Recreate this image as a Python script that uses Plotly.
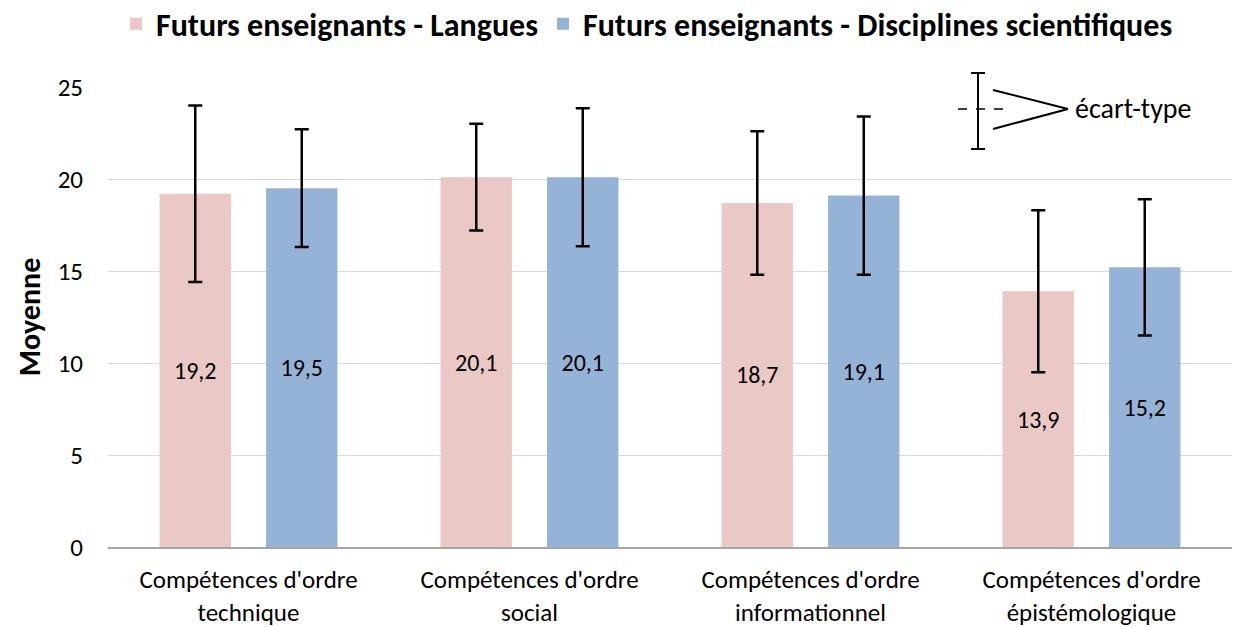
import plotly.graph_objects as go

categories = ["Compétences d'ordre<br>technique", "Compétences d'ordre<br>social",
              "Compétences d'ordre<br>informationnel", "Compétences d'ordre<br>épistémologique"]
langues_mean = [19.2, 20.1, 18.7, 13.9]
langues_sd = [4.8, 2.9, 3.9, 4.4]
sciences_mean = [19.5, 20.1, 19.1, 15.2]
sciences_sd = [3.2, 3.75, 4.3, 3.7]
series_names = ["Futurs enseignants - Langues", "Futurs enseignants - Disciplines scientifiques"]
y_ticks = [0, 5, 10, 15, 20, 25]

FONT = "Carlito, Lato, sans-serif"
W, H = 1238, 627
ML, MR, MT, MB = 108, 6, 87, 80
PW, PH = W - ML - MR, H - MT - MB


def px(x):
    return (x - ML) / PW


def py(y):
    return (H - MB - y) / PH


fig = go.Figure()
for name, vals, sd, col in [(series_names[0], langues_mean, langues_sd, "#EAC8C6"),
                            (series_names[1], sciences_mean, sciences_sd, "#95B3D7")]:
    fig.add_trace(go.Bar(
        x=categories, y=vals, name=name, marker=dict(color=col, line=dict(width=0)),
        error_y=dict(type="data", array=sd, visible=True, color="black", thickness=2.5, width=7),
        text=vals, texttemplate="%{y:.1f}", textposition="inside", insidetextanchor="middle",
        textfont=dict(family=FONT, size=24, color="black"), textangle=0,
        cliponaxis=False,
    ))

# inset legend for standard deviation
shapes = [
    dict(type="rect", xref="paper", yref="paper", x0=px(947), x1=px(1213), y0=py(157), y1=py(62),
         fillcolor="white", line=dict(width=0), layer="above"),
    dict(type="line", xref="paper", yref="paper", x0=px(978), x1=px(978), y0=py(73), y1=py(149),
         line=dict(color="black", width=2), layer="above"),
    dict(type="line", xref="paper", yref="paper", x0=px(971), x1=px(985), y0=py(73), y1=py(73),
         line=dict(color="black", width=2), layer="above"),
    dict(type="line", xref="paper", yref="paper", x0=px(971), x1=px(985), y0=py(149), y1=py(149),
         line=dict(color="black", width=2), layer="above"),
    dict(type="line", xref="paper", yref="paper", x0=px(958), x1=px(1003), y0=py(109), y1=py(109),
         line=dict(color="black", width=1.5, dash="dash"), layer="above"),
    dict(type="line", xref="paper", yref="paper", x0=px(993), x1=px(1068), y0=py(90), y1=py(109),
         line=dict(color="black", width=2), layer="above"),
    dict(type="line", xref="paper", yref="paper", x0=px(993), x1=px(1068), y0=py(129), y1=py(109),
         line=dict(color="black", width=2), layer="above"),
]

fig.update_layout(
    width=W, height=H, margin=dict(l=ML, r=MR, t=MT, b=MB, autoexpand=False),
    paper_bgcolor="white", plot_bgcolor="white",
    separators=", ",
    barmode="group", bargap=0.242, bargroupgap=0.33,
    font=dict(family=FONT, size=20, color="black"),
    legend=dict(orientation="h", x=px(647), xanchor="center", y=py(24), yanchor="middle",
                font=dict(family=FONT, size=32, color="black", weight="bold"),
                itemwidth=30, traceorder="normal"),
    shapes=shapes,
    annotations=[dict(text="écart-type", xref="paper", yref="paper", x=px(1073), y=py(109),
                      xanchor="left", yanchor="middle", showarrow=False,
                      font=dict(family=FONT, size=28, color="black"))],
    showlegend=True,
)
fig.update_yaxes(range=[0, 25], tickvals=y_ticks, showgrid=True, gridcolor="#D9D9D9", gridwidth=1,
                 zeroline=False, showline=False, ticklabelstandoff=24,
                 tickfont=dict(family=FONT, size=25, color="black"),
                 title=dict(text="Moyenne", standoff=8,
                            font=dict(family=FONT, size=30, color="black", weight="bold")))
fig.update_xaxes(showline=True, linecolor="#A6A6A6", linewidth=2, ticks="", ticklabelstandoff=9,
                 tickfont=dict(family=FONT, size=25, color="black"))

fig.write_html("out.html", config={"displayModeBar": False},
               post_script="document.body.style.margin='0';document.body.style.overflow='hidden';")
